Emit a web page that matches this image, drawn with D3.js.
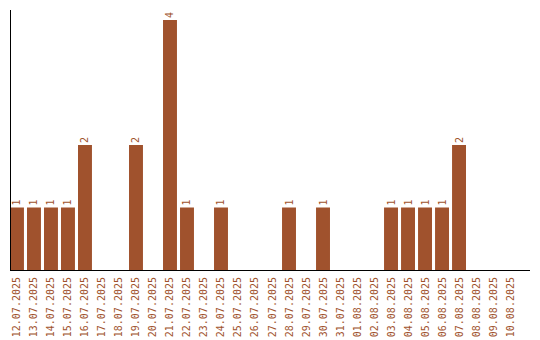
<!DOCTYPE html>
<html>
<head>
<meta charset="utf-8">
<script src="https://cdn.jsdelivr.net/npm/d3@7"></script>
<style>
  body { margin: 0; background: #fff; }
  text { font-family: "DejaVu Sans Mono", monospace; }
</style>
</head>
<body>
<svg id="chart" width="540" height="340"></svg>
<script>
// Days shown along the bottom
const days = ["12.07.2025", "13.07.2025", "14.07.2025", "15.07.2025", "16.07.2025",
    "17.07.2025", "18.07.2025", "19.07.2025", "20.07.2025", "21.07.2025",
    "22.07.2025", "23.07.2025", "24.07.2025", "25.07.2025", "26.07.2025",
    "27.07.2025", "28.07.2025", "29.07.2025", "30.07.2025", "31.07.2025",
    "01.08.2025", "02.08.2025", "03.08.2025", "04.08.2025", "05.08.2025",
    "06.08.2025", "07.08.2025", "08.08.2025", "09.08.2025", "10.08.2025"];
// Count per day
const counts = [1, 1, 1, 1, 2, 0, 0, 2, 0, 4, 1, 0, 1, 0, 0, 0, 1, 0, 1, 0, 0, 0, 1, 1, 1, 1, 2, 0, 0, 0];

const color = "#a0522d";
const margin = { left: 10, top: 20, bottom: 70 };
const height = 340;
const baseY = height - margin.bottom;

const data = days.map((d, i) => ({ day: d, value: counts[i] }));

const svg = d3.select("#chart");

// Scales
const xScale = d3.scaleBand().domain(days).range([margin.left, 517]).paddingInner(0.18).paddingOuter(0);
const yScale = d3.scaleLinear().domain([0, 4]).range([baseY, margin.top]);

// Bars
svg.append("g").selectAll("rect")
    .data(data.filter(d => d.value > 0))
    .enter().append("rect")
    .attr("x", d => xScale(d.day))
    .attr("y", d => yScale(d.value))
    .attr("width", xScale.bandwidth())
    .attr("height", d => baseY - yScale(d.value))
    .attr("fill", color);

// Value labels above bars
svg.append("g").selectAll("text")
    .data(data.filter(d => d.value > 0))
    .enter().append("text")
    .attr("transform", d => `translate(${xScale(d.day) + xScale.bandwidth() / 2 + 3.5}, ${yScale(d.value) - 2}) rotate(-90)`)
    .attr("text-anchor", "start")
    .attr("font-size", 10)
    .attr("fill", color)
    .text(d => d.value);

// X axis
const xAxis = d3.axisBottom(xScale).tickSize(0).tickPadding(0);
const gx = svg.append("g").attr("transform", `translate(0, ${baseY})`).call(xAxis);
gx.select(".domain").remove();
gx.selectAll("text")
    .attr("transform", "rotate(-90)")
    .attr("text-anchor", "end")
    .attr("dy", "0.35em")
    .attr("x", -7)
    .attr("y", 0)
    .attr("font-size", 10)
    .attr("font-family", "DejaVu Sans Mono, monospace")
    .attr("fill", color);

// Axis lines
svg.append("line")
    .attr("x1", margin.left).attr("x2", 530)
    .attr("y1", baseY + 0.5).attr("y2", baseY + 0.5)
    .attr("stroke", "#000");
svg.append("line")
    .attr("x1", margin.left + 0.5).attr("x2", margin.left + 0.5)
    .attr("y1", 10).attr("y2", baseY)
    .attr("stroke", "#000");
</script>
</body>
</html>
